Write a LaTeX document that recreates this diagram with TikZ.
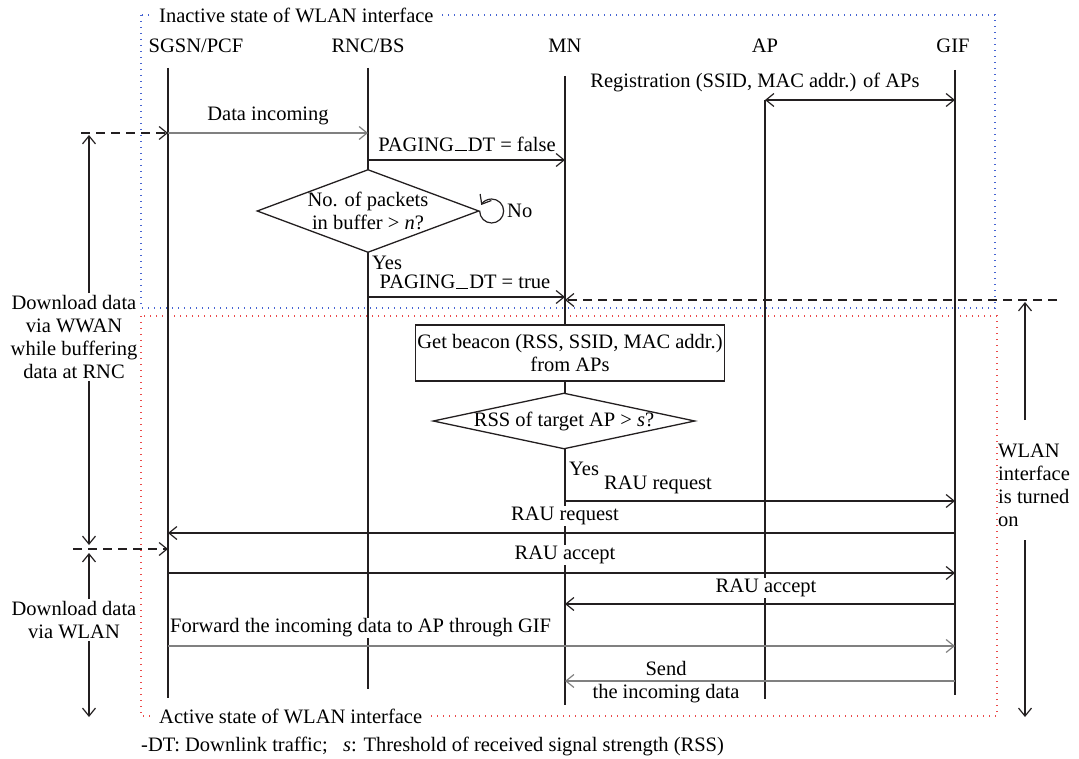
\documentclass[tikz,border=0pt]{standalone}
\usepackage{fontspec}
\setmainfont{Liberation Serif}
\usepackage{tikz}
\usetikzlibrary{positioning,arrows.meta,calc,shapes.geometric}
\definecolor{ink}{RGB}{35,31,32}
\definecolor{msggray}{RGB}{128,128,128}
\definecolor{stateblue}{RGB}{70,100,210}
\definecolor{statered}{RGB}{235,75,75}
\newcommand{\uscore}{\kern.04em\vbox{\hrule width.6em height.05em}\kern.04em}
\tikzset{
  lifeline/.style={draw=ink,line width=1.4pt},
  msg/.style={draw=ink,line width=1.2pt,->},
  graymsg/.style={msg,draw=msggray},
  dashmsg/.style={msg,dash pattern=on 9pt off 6pt},
  span/.style={draw=ink,line width=1.2pt,->},
  bluedot/.style={draw=stateblue,line width=1.3pt,dash pattern=on 1.3pt off 4.7pt},
  reddot/.style={draw=statered,line width=1.3pt,dash pattern=on 1.3pt off 4.7pt},
  boxtitle/.style={fill=white,inner xsep=5pt,inner ysep=1pt},
  lbl/.style={fill=white,inner sep=1pt},
  decision/.style={diamond,draw=ink,line width=1.3pt,fill=white,inner sep=0pt},
  procbox/.style={draw=ink,line width=1.3pt,fill=white,align=center,minimum width=306pt,minimum height=56pt,inner sep=2pt},
}

\begin{document}
\begin{tikzpicture}[x=1pt,y=-1pt,inner sep=2pt,font=\fontsize{20.5}{23}\selectfont,
  >={Straight Barb[length=8pt,width=13pt]}]
  \useasboundingbox (0,0) rectangle (1079,759);
  % state frames
  \draw[bluedot] (141,15) rectangle (995,308);
  \draw[reddot] (141,316) rectangle (997,716);
  \node[boxtitle,anchor=west] (inactive) at (154,15) {Inactive state of WLAN interface};
  \node[boxtitle,anchor=west] (active) at (154,716) {Active state of WLAN interface};
  % entities
  \node (hsgsn) at (196,46) {SGSN/PCF};
  \node (hrnc) at (368,46) {RNC/BS};
  \node (hmn) at (565,46) {MN};
  \node (hap) at (765,46) {AP};
  \node (hgif) at (953,46) {GIF};
  \coordinate (sgsnT) at (168,68); \coordinate (sgsnB) at (168,698);
  \coordinate (rncT) at (368,68);  \coordinate (rncB) at (368,689);
  \coordinate (mnT) at (565,76);   \coordinate (mnB) at (565,705);
  \coordinate (apT) at (765,100);  \coordinate (apB) at (765,699);
  \coordinate (gifT) at (955,70);  \coordinate (gifB) at (955,695);
  \foreach \e in {sgsn,rnc,mn,ap,gif}
    \draw[lifeline] (\e T) -- (\e B);
  % message rows
  \coordinate (yReg) at (0,100);
  \coordinate (yData) at (0,133);
  \coordinate (yPgF) at (0,160);
  \coordinate (yPgT) at (0,297);
  \coordinate (yReq1) at (0,501);
  \coordinate (yReq2) at (0,533);
  \coordinate (yAcc1) at (0,573);
  \coordinate (yAcc2) at (0,604);
  \coordinate (yFwd) at (0,646);
  \coordinate (ySend) at (0,681);
  % labels
  \node[lbl] (lReg) at (755,82) {Registration (SSID, MAC addr.) of APs};
  \node[lbl] (lData) at (268,116) {Data incoming};
  \node[lbl] (lPgF) at (467,144) {PAGING\uscore DT = false};
  \node[lbl] (lPgT) at (465,282) {PAGING\uscore DT = true};
  \node[lbl,anchor=west] (yes1) at (371,263) {Yes};
  \node[lbl,anchor=west] (yes2) at (568,469) {Yes};
  \node[lbl] (lReq1) at (658,485) {RAU request};
  \node[lbl] (lReq2) at (565,516) {RAU request};
  \node[lbl] (lAcc1) at (565,555) {RAU accept};
  \node[lbl] (lAcc2) at (766,588) {RAU accept};
  \node[lbl,anchor=west] (lFwd) at (169,628) {Forward the incoming data to AP through GIF};
  \node[align=center] (lSend) at (666,682) {Send\\the incoming data};
  % messages
  \draw[msg,<->] (apT |- yReg) -- (gifT |- yReg);
  \draw[graymsg] (sgsnT |- yData) -- (rncT |- yData);
  \draw[msg] (rncT |- yPgF) -- (mnT |- yPgF);
  \draw[msg] (rncT |- yPgT) -- (mnT |- yPgT);
  \draw[msg] (mnT |- yReq1) -- (gifT |- yReq1);
  \draw[msg] (gifT |- yReq2) -- (sgsnT |- yReq2);
  \draw[msg] (sgsnT |- yAcc1) -- (gifT |- yAcc1);
  \draw[msg] (gifT |- yAcc2) -- (mnT |- yAcc2);
  \draw[graymsg] (sgsnT |- yFwd) -- (gifT |- yFwd);
  \draw[graymsg] (gifT |- ySend) -- (mnT |- ySend);
  % decisions and actions
  \node[decision,minimum width=222pt,minimum height=83pt,
    label={[align=center]center:No. of packets\\in buffer > \textit{n}?}] (buf) at (368,211) {};
  \draw[msg] (buf.east) arc[start angle=180,end angle=-150,radius=12];
  \node[anchor=west] (no) at (505,211) {No};
  \node[procbox] (beacon) at (570,353) {Get beacon (RSS, SSID, MAC addr.)\\from APs};
  \node[decision,minimum width=262pt,minimum height=56pt,
    label={center:RSS of target AP > \textit{s}?}] (rss) at (564,421) {};
  % download phases
  \node[align=center] (wwan) at (74,337) {Download data\\via WWAN\\while buffering\\data at RNC};
  \node[align=center] (wlan) at (74,620) {Download data\\via WLAN};
  \node[align=left,anchor=west] (wlanon) at (996,485) {WLAN\\interface\\is turned\\on};
  \coordinate (dl1) at (81,133);
  \coordinate (dl2) at (73,549);
  \coordinate (lu1) at (89,135);
  \coordinate (ld1) at (89,545);
  \coordinate (lu2) at (89,553);
  \coordinate (ld2) at (89,717);
  \draw[dashmsg] (dl1) -- (sgsnT |- dl1);
  \draw[dashmsg] (dl2) -- (sgsnT |- dl2);
  \draw[span] (wwan.north -| lu1) -- (lu1);
  \draw[span] (wwan.south -| ld1) -- (ld1);
  \draw[span] (wlan.north -| lu2) -- (lu2);
  \draw[span] (wlan.south -| ld2) -- (ld2);
  \coordinate (dr) at (1057,300);
  \coordinate (ru0) at (1025,420);
  \coordinate (ru1) at (1025,302);
  \coordinate (rd0) at (1025,540);
  \coordinate (rd1) at (1025,717);
  \draw[dashmsg] (dr) -- (mnT |- dr);
  \draw[span] (ru0) -- (ru1);
  \draw[span] (rd0) -- (rd1);
  % footnote
  \node[anchor=west] (foot) at (139,746) {-DT: Downlink traffic;\hspace{0.5em} \textit{s}: Threshold of received signal strength (RSS)};
\end{tikzpicture}
\end{document}
